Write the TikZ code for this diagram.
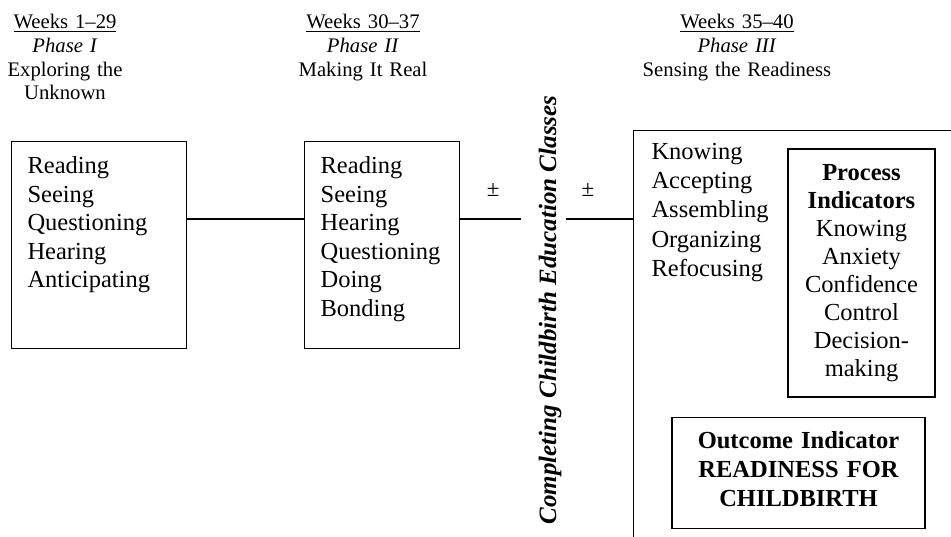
\documentclass[tikz,border=0pt]{standalone}
\usepackage{fontspec}
\setmainfont{Liberation Serif}
\usetikzlibrary{positioning}

\begin{document}
\begin{tikzpicture}[
  x=1pt, y=-1pt,
  line width=1.1pt,
  header/.style={align=center, anchor=base, inner sep=0pt, text width=200pt,
    font=\fontsize{20.7}{23.6}\selectfont},
  activity/.style={draw, rectangle, align=left, inner xsep=16pt, inner ysep=16pt,
    text height=16pt, text depth=159pt, font=\fontsize{24.5}{28.6}\selectfont},
  readiness/.style={draw, rectangle, align=left, inner xsep=18pt, inner ysep=13pt,
    text width=300pt, text height=16pt, text depth=400pt, font=\fontsize{24.5}{29.2}\selectfont},
  indicator/.style={draw, rectangle, align=center, inner xsep=8pt, inner ysep=16pt,
    text height=16pt, font=\fontsize{24.5}{28}\selectfont},
  classes/.style={rotate=90, inner xsep=0pt, inner ysep=0pt, text height=34pt, text depth=9pt,
    font=\bfseries\itshape\fontsize{25}{25}\selectfont},
  pm/.style={inner sep=0pt, font=\fontsize{23}{23}\selectfont},
  link/.style={draw=black}
]
  \useasboundingbox (0,0) rectangle (951,537);
  \clip (0,0) rectangle (951,537);

  % --- Weeks / phases (top) ---
  \node[header] (head1) at (65,29) {\underline{Weeks 1–29}\\\textit{Phase I}\\Exploring the\\Unknown};
  \node[header] (head2) at (363,29) {\underline{Weeks 30–37}\\\textit{Phase II}\\Making It Real};
  \node[header] (head3) at (737,29) {\underline{Weeks 35–40}\\\textit{Phase III}\\Sensing the Readiness};

  % --- Phase I and II ---
  \node[activity, text width=143pt, anchor=north west] (phase1) at (11,141)
    {Reading\\Seeing\\Questioning\\Hearing\\Anticipating};
  \node[activity, text width=123pt, right=117pt of phase1] (phase2)
    {Reading\\Seeing\\Hearing\\Questioning\\Doing\\Bonding};

  % --- Classes ---
  \node[classes] (classes) at (543.5,310) {Completing Childbirth Education Classes};

  % --- Phase III ---
  \node[readiness, anchor=north west] (sensing) at (633,130)
    {Knowing\\Accepting\\Assembling\\Organizing\\Refocusing};
  \node[indicator, text width=131pt, text depth=200pt] (process) at (861.5,273)
    {\textbf{Process}\\\textbf{Indicators}\\Knowing\\Anxiety\\Confidence\\Control\\Decision-\\making};
  \node[indicator, below=19pt of process, xshift=-63pt, text width=233pt, inner xsep=10pt,
    text height=15pt, text depth=64pt, font=\bfseries\fontsize{24.5}{29}\selectfont] (outcome)
    {Outcome Indicator\\READINESS FOR\\CHILDBIRTH};

  % --- Links ---
  \coordinate (row) at ([yshift=-78pt]phase1.north east);
  \draw[link] (row) -- (row -| phase2.west);
  \draw[link] (row -| phase2.east) -- node[pm, pos=.54, yshift=28.5pt]{±} (row -| classes.north);
  \draw[link] (row -| classes.south) -- node[pm, pos=.33, yshift=28.5pt]{±} (row -| sensing.west);

\end{tikzpicture}
\end{document}
